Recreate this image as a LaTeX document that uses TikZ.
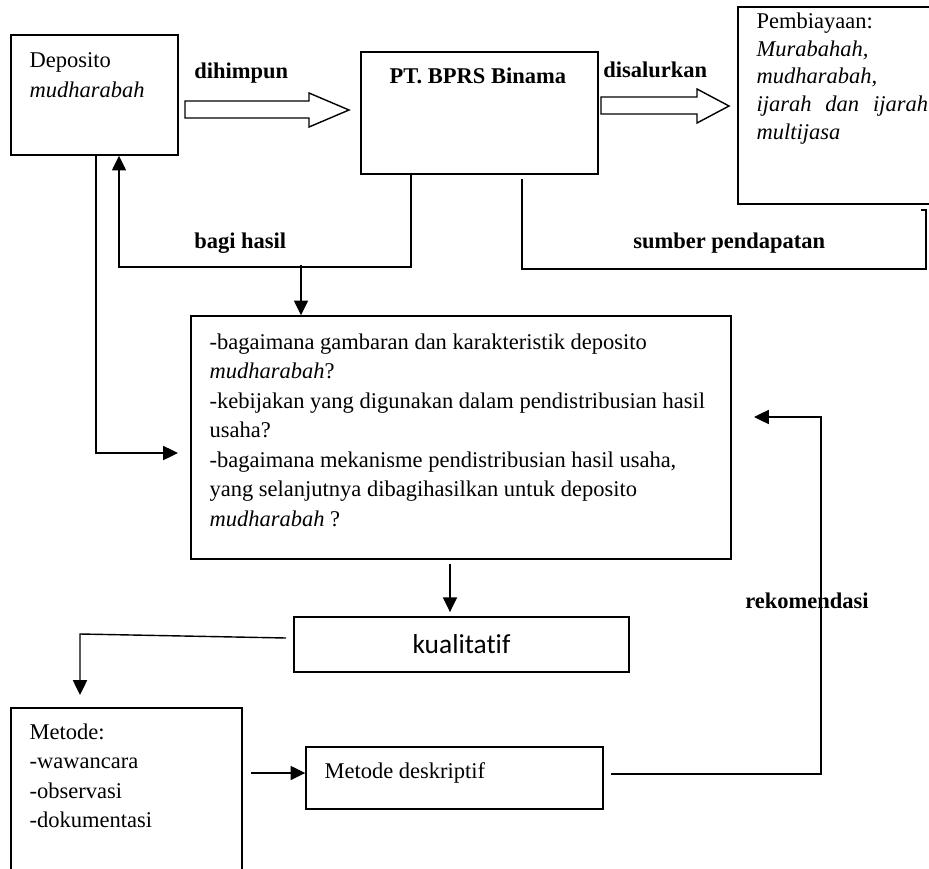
\documentclass[tikz,border=0pt]{standalone}
\usepackage{fontspec}
\setmainfont{Liberation Serif}
\newfontfamily\calibri[Ligatures=NoCommon]{Carlito}
\usepackage{tikz}
\usetikzlibrary{arrows.meta}

\newcommand{\pxu}{0.025cm}

\begin{document}
\begin{tikzpicture}[
    x=0.025cm, y=-0.025cm,
    box/.style = {rectangle, draw, line width=1pt, inner sep=0pt},
    txt/.style = {anchor=north west, inner sep=0pt, align=left,
                 font=\fontsize{16}{21}\selectfont},
    lbl/.style = {anchor=base west, inner sep=0pt,
                 font=\fontsize{16}{21}\selectfont\bfseries},
    arr/.style = {-{Triangle[length=10.5pt, width=10pt]}, line width=1pt},
    conn/.style = {line width=1pt}
]
\useasboundingbox (0,0) rectangle (929,869);

% Boxes
\node[box, minimum width=167*\pxu, minimum height=120*\pxu] (dep) at (94.5,95) {};
\node[box, minimum width=237*\pxu, minimum height=122*\pxu] (pt) at (479.5,113) {};
\node[box, minimum width=222*\pxu, minimum height=197*\pxu] (pemb) at (849,105.5) {};
\node[box, minimum width=540*\pxu, minimum height=243*\pxu] (quest) at (461,437.5) {};
\node[box, minimum width=335*\pxu, minimum height=55*\pxu,
      font=\calibri\fontsize{19.5}{23}\selectfont] (kual) at (461.5,644.5) {kualitatif};
\node[box, minimum width=231*\pxu, minimum height=200*\pxu] (metode) at (126.5,808) {};
\node[box, minimum width=297*\pxu, minimum height=62*\pxu] (desk) at (454.5,778) {};

% Texts in the boxes
\node[txt] (deptext) at ([shift={(19,18)}]dep.north west) {Deposito\\\textit{mudharabah}};
\node[txt, font=\fontsize{16}{21}\selectfont\bfseries] (pttext)
    at ([shift={(29,16)}]pt.north west) {PT. BPRS Binama};
\node[txt, font=\fontsize{16}{19.8}\selectfont] (pembtext) at ([shift={(19,6)}]pemb.north west)
    {Pembiayaan:\\\textit{Murabahah,}\\\textit{mudharabah,}\\
     \hbox to 122pt{\itshape ijarah\hfill dan\hfill ijarah}\\\textit{multijasa}};
\node[txt] (questtext) at ([shift={(19,18)}]quest.north west)
    {-bagaimana gambaran dan karakteristik deposito\\
     \textit{mudharabah}?\\
     -kebijakan yang digunakan dalam pendistribusian hasil\\
     usaha?\\
     -bagaimana mekanisme pendistribusian hasil usaha,\\
     yang selanjutnya dibagihasilkan untuk deposito\\
     \textit{mudharabah} ?};
\node[txt] (metodetext) at ([shift={(19,16)}]metode.north west)
    {Metode:\\-wawancara\\-observasi\\-dokumentasi};
\node[txt] (desktext) at ([shift={(19,16)}]desk.north west) {Metode deskriptif};

% Block arrows
\draw[conn] (185,101) -- (309,101) -- (309,93) -- (349,110) -- (309,127) -- (309,118) -- (185,118) -- cycle;
\draw[conn] (601,97) -- (697,97) -- (697,89) -- (729,106) -- (697,123) -- (697,114) -- (601,114) -- cycle;

% Labels
\node[lbl] (himpunlbl) at (194,78) {dihimpun};
\node[lbl] (salurlbl) at (603,77) {disalurkan};
\node[lbl] (bagilbl) at (194,248) {bagi hasil};
\node[lbl] (sumberlbl) at (633,248) {sumber pendapatan};
\node[lbl] (rekomlbl) at (745,608) {rekomendasi};

% Connectors
\coordinate (bhr) at (411,267);
\coordinate (bhl) at (119,267);
\coordinate (bhm) at (301,265);
\draw[arr] (pt.south -| bhr) -- (bhr) -- (bhl) -- (dep.south -| bhl);
\draw[arr] (bhm) -- (quest.north -| bhm);

\coordinate (dl) at (96,453);
\coordinate (dlt) at (178,453);
\draw[arr] (dep.south -| dl) -- (dl) -- (dlt);

\coordinate (sp1) at (522,179);
\coordinate (sp2) at (522,269);
\coordinate (sp3) at (926,269);
\coordinate (sp4) at (926,210);
\coordinate (sp5) at (921,210);
\draw[conn] (sp1) -- (sp2) -- (sp3) -- (sp4) -- (sp5);

\coordinate (qk) at (450,0);
\draw[arr, shorten <=3pt, shorten >=3pt] (quest.south -| qk) -- (kual.north -| qk);

\coordinate (k1) at (286,638);
\coordinate (km) at (80,634);
\coordinate (k2) at (80,695);
\draw[arr] (k1) -- (km) -- (k2);

\coordinate (md) at (251,773);
\draw[arr] (md) -- (desk.west |- md);

\coordinate (r1) at (611,774);
\coordinate (r2) at (821,774);
\coordinate (r3) at (821,417);
\coordinate (r4) at (754,417);
\draw[arr] (r1) -- (r2) -- (r3) -- (r4);

\end{tikzpicture}
\end{document}
